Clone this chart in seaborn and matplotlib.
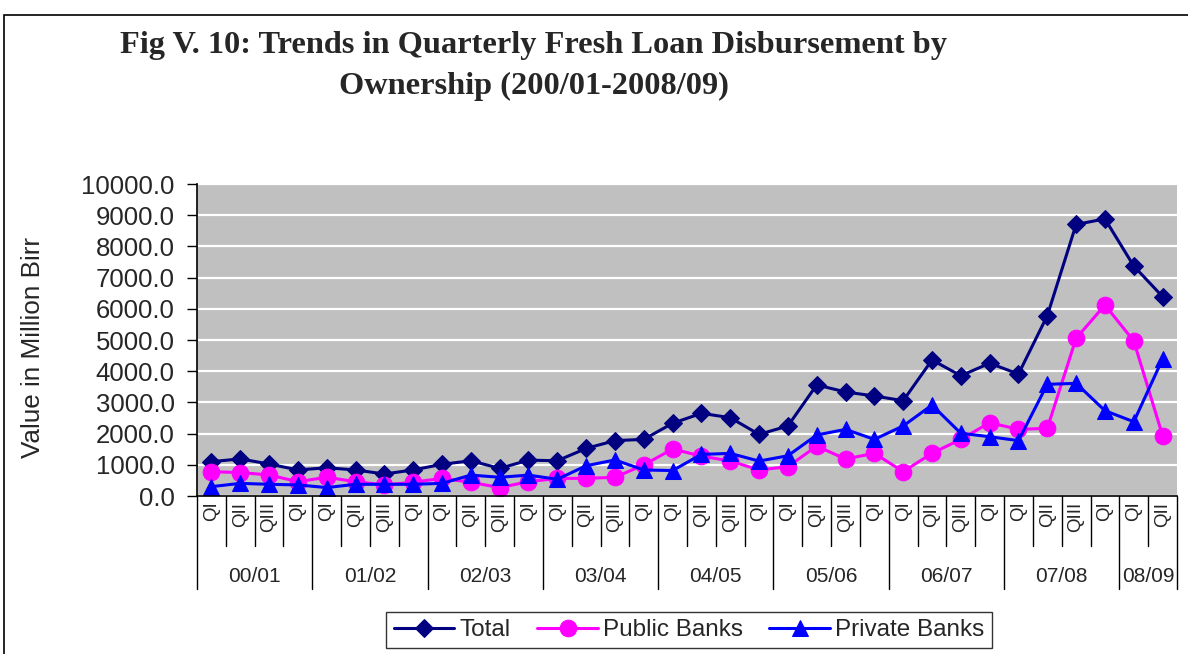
import matplotlib
matplotlib.use("Agg")
import matplotlib.pyplot as plt
import matplotlib.transforms as mtransforms
from matplotlib.patches import Rectangle
import seaborn as sns
import pandas as pd
import numpy as np

# ---- data ----
years = ["00/01", "01/02", "02/03", "03/04", "04/05", "05/06", "06/07", "07/08", "08/09"]
quarters_per_year = [4, 4, 4, 4, 4, 4, 4, 4, 2]
quarter_labels = ["QI", "QII", "QIII", "QI"]

total = [1100, 1190, 1025, 835, 905, 835, 705, 835, 1015, 1130, 885, 1150,
         1130, 1525, 1775, 1815, 2330, 2650, 2510, 1975, 2245, 3560, 3335, 3205,
         3055, 4360, 3855, 4255, 3910, 5780, 8705, 8880, 7370, 6390]
public = [780, 750, 675, 460, 600, 460, 355, 440, 565, 440, 270, 460,
          565, 565, 600, 995, 1505, 1280, 1120, 835, 940, 1600, 1185, 1370,
          780, 1370, 1815, 2350, 2135, 2170, 5055, 6120, 4970, 1935]
private = [300, 405, 375, 355, 270, 375, 375, 375, 405, 670, 600, 670,
           535, 970, 1155, 835, 815, 1335, 1365, 1120, 1290, 1955, 2135, 1815,
           2245, 2915, 2010, 1900, 1775, 3580, 3610, 2735, 2380, 4390]

series_names = ["Total", "Public Banks", "Private Banks"]
colors = ["#000080", "#FF00FF", "#0000FF"]
markers = ["D", "o", "^"]
msizes = [9.5, 12, 11]

xlabels = []
for n in quarters_per_year:
    xlabels += quarter_labels[:n]
idx = np.arange(len(total))

df = pd.DataFrame({"idx": np.tile(idx, 3),
                   "value": total + public + private,
                   "series": np.repeat(series_names, len(idx))})

sns.set_style("white")
plt.rcParams["font.family"] = ["Liberation Sans", "DejaVu Sans"]

fig = plt.figure(figsize=(11.88, 6.54), dpi=100)
ax = fig.add_axes([197/1188, 1-496/654, (1177-197)/1188, (496-184)/654])
ax.set_facecolor("#C0C0C0")

for name, c, m, ms in zip(series_names, colors, markers, msizes):
    sub = df[df["series"] == name]
    sns.lineplot(data=sub, x="idx", y="value", ax=ax, color=c, marker=m,
                 markersize=ms, markeredgecolor=c, linewidth=2.2, label=name,
                 legend=False)

ax.set_xlim(-0.5, len(idx) - 0.5)
ax.set_ylim(0, 10000)
ax.set_yticks(np.arange(0, 10001, 1000))
ax.set_yticklabels([f"{v:.1f}" for v in np.arange(0, 10001, 1000)], fontsize=18.5)
ax.yaxis.grid(True, color="white", linewidth=1.6)
ax.xaxis.grid(False)
ax.set_axisbelow(True)
ax.tick_params(axis="y", direction="out", length=7, width=1, color="black", pad=9, left=True)
ax.set_xticks(idx)
ax.set_xticklabels(xlabels, rotation=90, fontsize=13.5)
ax.tick_params(axis="x", length=0, pad=4)
ax.set_xlabel("")
ax.set_ylabel("Value in Million Birr", fontsize=18.8)
ax.yaxis.set_label_coords((45 - 197) / 980, (496 - 348) / 312)
for s in ["top", "right"]:
    ax.spines[s].set_visible(False)
for s in ["left", "bottom"]:
    ax.spines[s].set_color("black")
    ax.spines[s].set_linewidth(1.2)

# multi-level category separators
trans = mtransforms.blended_transform_factory(ax.transData, ax.transAxes)
axh = 496 - 184
bounds = np.concatenate([[0], np.cumsum(quarters_per_year)])
for i in range(1, len(idx)):
    if i not in bounds:
        ax.plot([i - 0.5, i - 0.5], [0, -50/axh], transform=trans, color="black",
                lw=1, clip_on=False)
for b in bounds:
    ax.plot([b - 0.5, b - 0.5], [0, -93/axh], transform=trans, color="black",
            lw=1, clip_on=False)
for y, a, b in zip(years, bounds[:-1], bounds[1:]):
    ax.text((a + b - 1) / 2, -81/axh, y, transform=trans, ha="center", va="center",
            fontsize=15)

# legend
leg = ax.legend(loc="center", bbox_to_anchor=(689/1188, 1-630/654),
                bbox_transform=fig.transFigure, ncol=3, fontsize=17.5,
                frameon=True, fancybox=False, handlelength=2.5, handletextpad=0.2,
                columnspacing=1.1, borderpad=0.3)
leg.get_frame().set_edgecolor("black")
leg.get_frame().set_linewidth(1)

# title
fig.text(534/1188, 1-46/654, "Fig V. 10: Trends in Quarterly Fresh Loan Disbursement by",
         ha="center", va="center", fontsize=23.3, fontweight="bold",
         family=["Liberation Serif", "DejaVu Serif"])
fig.text(534/1188, 1-86/654, "Ownership (200/01-2008/09)",
         ha="center", va="center", fontsize=23.3, fontweight="bold",
         family=["Liberation Serif", "DejaVu Serif"])

# chart border
fig.patches.append(Rectangle((4/1188, -0.2), 1.5, 1-15/654 + 0.2, transform=fig.transFigure,
                             fill=False, edgecolor="black", lw=1.2))

fig.savefig("out.png", dpi=100)
